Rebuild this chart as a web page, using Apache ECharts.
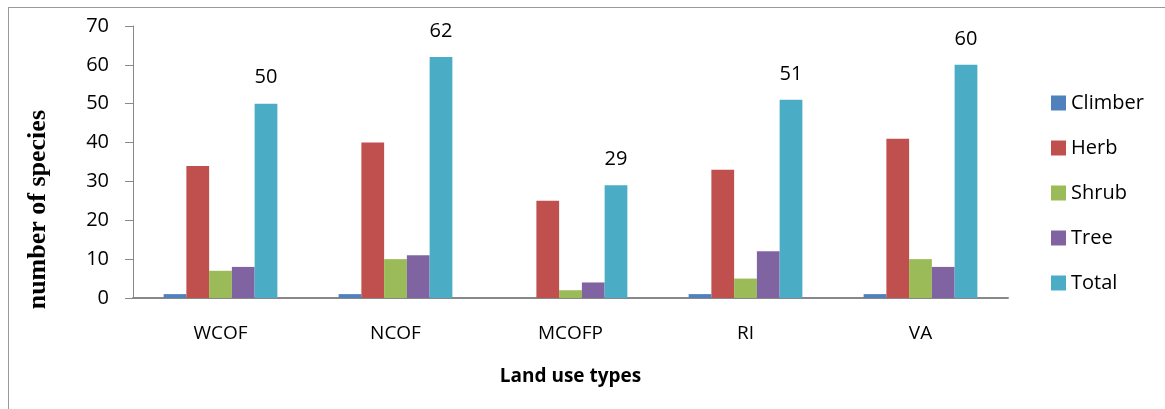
<!DOCTYPE html>
<html>
<head>
<meta charset="utf-8">
<script src="https://cdn.jsdelivr.net/npm/echarts@6/dist/echarts.min.js"></script>
<style>
  html, body { margin: 0; padding: 0; background: #fff; }
  #frame { position: absolute; left: 8px; top: 7px; width: 1200px; height: 450px;
           border-left: 1px solid #999; border-top: 1px solid #999; }
  #chart { position: absolute; left: 0; top: 0; width: 1165px; height: 409px; }
</style>
</head>
<body>
<div id="frame"></div>
<div id="chart"></div>
<script>
  // land use types on the x axis
  const categories = ['WCOF', 'NCOF', 'MCOFP', 'RI', 'VA'];
  const climber = [1, 1, 0, 1, 1];
  const herb = [34, 40, 25, 33, 41];
  const shrub = [7, 10, 2, 5, 10];
  const tree = [8, 11, 4, 12, 8];
  const total = [50, 62, 29, 51, 60];

  const font = 'Open Sans, Noto Sans, sans-serif';
  const chart = echarts.init(document.getElementById('chart'));

  function bar(name, data, color, showLabel) {
    return {
      name: name,
      type: 'bar',
      data: data,
      barGap: '0%',
      barCategoryGap: '35%',
      itemStyle: { color: color },
      label: {
        show: !!showLabel,
        position: 'top',
        distance: 16,
        color: '#000',
        fontSize: 20,
        fontFamily: font
      }
    };
  }

  const options = {
    animation: false,
    grid: {
      left: 133,
      top: 26,
      right: 157,
      bottom: 111
    },
    legend: {
      orient: 'vertical',
      left: 1046,
      top: 88,
      icon: 'rect',
      itemWidth: 15,
      itemHeight: 15,
      itemGap: 25,
      textStyle: { fontSize: 20, color: '#000', fontFamily: font },
      data: ['Climber', 'Herb', 'Shrub', 'Tree', 'Total']
    },
    xAxis: {
      type: 'category',
      data: categories,
      name: 'Land use types',
      nameLocation: 'middle',
      nameGap: 69,
      nameTextStyle: { fontSize: 19, fontWeight: 'bold', color: '#000', fontFamily: font },
      axisLine: { lineStyle: { color: '#888', width: 2 } },
      axisTick: { show: false },
      axisLabel: { fontSize: 19, color: '#000', margin: 26, fontFamily: font }
    },
    yAxis: {
      type: 'value',
      min: 0,
      max: 70,
      interval: 10,
      axisLine: { show: true, lineStyle: { color: '#888' } },
      axisTick: { show: true, length: 8, lineStyle: { color: '#888' } },
      axisLabel: { fontSize: 20, color: '#000', margin: 24, fontFamily: font },
      splitLine: { show: false }
    },
    graphic: [{
      type: 'text',
      left: 25,
      top: 110,
      rotation: Math.PI / 2,
      style: {
        text: 'number of species',
        font: 'bold 26px "Liberation Serif", serif',
        fill: '#000'
      }
    }],
    series: [
      bar('Climber', climber, '#4F81BD'),
      bar('Herb', herb, '#C0504D'),
      bar('Shrub', shrub, '#9BBB59'),
      bar('Tree', tree, '#8064A2'),
      bar('Total', total, '#4BACC6', true)
    ]
  };
  chart.setOption(options);
</script>
</body>
</html>
